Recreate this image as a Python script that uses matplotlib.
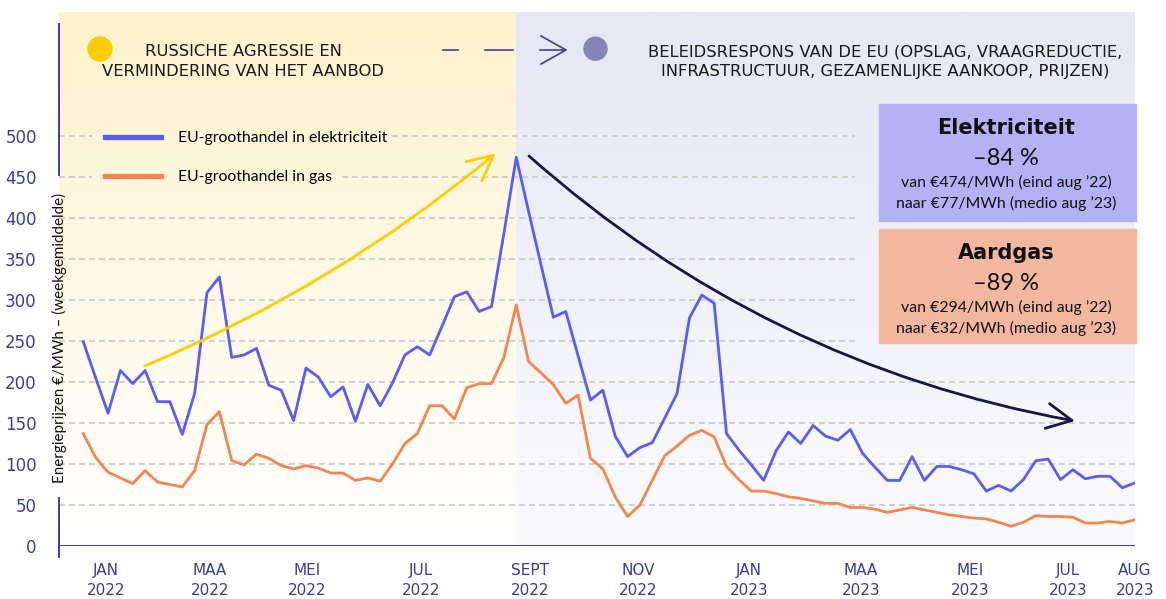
import numpy as np
import matplotlib.pyplot as plt
from matplotlib.colors import LinearSegmentedColormap
from matplotlib.patches import FancyArrowPatch, Rectangle, Ellipse
from matplotlib.lines import Line2D

W, H = 1166, 599

# weekly averages, EUR/MWh
elec = [249, 205, 162, 214, 198, 214, 176, 176, 136, 186,
        309, 328, 230, 233, 241, 196, 190, 153, 217, 206,
        182, 194, 152, 197, 171, 199, 233, 243, 233, 268,
        304, 310, 286, 292, 381, 474, 408, 343, 279, 286,
        232, 178, 190, 134, 109, 120, 126, 156, 186, 278,
        306, 296, 137, 117, 99, 80, 116, 139, 125, 147,
        134, 129, 142, 113, 96, 80, 80, 109, 80, 97,
        97, 93, 88, 67, 74, 67, 81, 104, 106, 81,
        93, 82, 85, 85, 71, 77]
gas = [137, 108, 90, 83, 76, 92, 78, 75, 72, 92,
       148, 164, 104, 99, 112, 107, 98, 94, 98, 95,
       89, 89, 80, 83, 79, 100, 125, 137, 171, 171,
       155, 193, 198, 198, 230, 294, 225, 211, 197, 174,
       184, 107, 94, 60, 36, 50, 80, 110, 122, 135,
       141, 133, 97, 81, 67, 67, 64, 60, 58, 55,
       52, 52, 47, 47, 45, 41, 44, 47, 44, 41,
       38, 36, 34, 33, 29, 24, 29, 37, 36, 36,
       35, 28, 28, 30, 28, 32]
weeks = np.arange(len(elec))

tick_pos = [1.84, 10.24, 18.08, 27.3, 36.11, 44.84, 53.82, 62.87, 71.68, 79.6, 85.0]
tick_labels = ["JAN\n2022", "MAA\n2022", "MEI\n2022", "JUL\n2022", "SEPT\n2022",
               "NOV\n2022", "JAN\n2023", "MAA\n2023", "MEI\n2023", "JUL\n2023", "AUG\n2023"]
y_ticks = list(range(0, 501, 50))

ELEC = "#5B5CF6"
GAS = "#F5854F"
AXIS = "#2E2EA0"
TICK = "#3A3C9C"
SANS = ["DejaVu Sans"]
BODY = ["Lato", "DejaVu Sans"]

# pixel helpers (x axis: week index, y axis: value)
X0, DX, Y0, DY = 83.3, 12.37, 546.0, 0.82
def kx(px):
    return (px - X0) / DX
def vy(py):
    return (Y0 - py) / DY
def fx(px):
    return px / W
def fy(py):
    return 1 - py / H

fig = plt.figure(figsize=(W / 100, H / 100), dpi=100)
ax = fig.add_axes([fx(59), fy(546), (1135 - 59) / W, (546 - 12) / H])
xl, xr = kx(59), kx(1135)
ytop = vy(12)

# ---- backgrounds -------------------------------------------------------
grad = np.linspace(0, 1, 256).reshape(-1, 1)
cm_y = LinearSegmentedColormap.from_list("yel", ["#FFFFFF", "#FEF3CC"])
cm_l = LinearSegmentedColormap.from_list("lav", ["#FBFBFE", "#E5E7F3"])
ax.imshow(grad, extent=[xl, 35, 0, ytop], origin="lower", aspect="auto", cmap=cm_y, zorder=0)
ax.imshow(grad, extent=[35, xr, 0, ytop], origin="lower", aspect="auto", cmap=cm_l, zorder=0)

# ---- grid (gaps behind legend text and summary boxes) -------------------
gaps = {500: (92, 392), 450: (92, 342)}
for v in y_ticks[1:]:
    x_end = kx(855) if v >= 250 else xr
    segs = [(xl, x_end)]
    if v in gaps:
        a, b = gaps[v]
        segs = [(xl, kx(a)), (kx(b), x_end)]
    for a, b in segs:
        ax.hlines(v, a, b, colors="#C9C9C9", linestyles=(0, (3.5, 2.5)), lw=1.2, zorder=1)
ax.axhline(0, color=AXIS, lw=1.3, zorder=2)

# ---- data ---------------------------------------------------------------
ax.plot(weeks, elec, color=ELEC, lw=2.0, zorder=4, label="EU-groothandel in elektriciteit")
ax.plot(weeks, gas, color=GAS, lw=2.0, zorder=4, label="EU-groothandel in gas")

ax.set_xlim(xl, xr)
ax.set_ylim(0, ytop)
for s in ax.spines.values():
    s.set_visible(False)
ax.set_yticks(y_ticks)
ax.set_yticklabels([str(v) for v in y_ticks], color=TICK, fontsize=12, family=SANS)
ax.set_xticks(tick_pos)
ax.set_xticklabels(tick_labels, color=TICK, fontsize=11, family=SANS, linespacing=1.45)
ax.tick_params(axis="both", length=0)
ax.tick_params(axis="y", pad=16)
ax.tick_params(axis="x", pad=12)

leg = ax.legend(loc="upper left", bbox_to_anchor=((98 - 59) / 1076, (546 - 124) / 534),
                frameon=False, prop={"family": BODY, "size": 11.3},
                handlelength=3.57, handletextpad=1.08,
                labelspacing=1.62, borderpad=0.45, borderaxespad=0)
for ln in leg.get_lines():
    ln.set_linewidth(3.8)

# ---- trend arrows -------------------------------------------------------
ax.add_patch(FancyArrowPatch((kx(144.7), vy(366)), (kx(495.7), vy(153.3)),
                             connectionstyle="arc3,rad=0.075",
                             arrowstyle="->,head_length=0.9,head_width=0.45",
                             mutation_scale=20, lw=2.0, color="#FFCD00",
                             shrinkA=0, shrinkB=0, zorder=5))
ax.add_patch(FancyArrowPatch((kx(529), vy(156)), (kx(1075), vy(421)),
                             connectionstyle="arc3,rad=0.14",
                             arrowstyle="->,head_length=0.9,head_width=0.45",
                             mutation_scale=20, lw=2.0, color="#161647",
                             shrinkA=0, shrinkB=0, zorder=5))

# ---- left axis line (broken behind the label) ---------------------------
for a, b in [(24, 175), (498, 557)]:
    fig.add_artist(Line2D([fx(58.5)] * 2, [fy(a), fy(b)], color=AXIS, lw=1.3))
fig.text(fx(59), fy(338), "Energieprijzen €/MWh – (weekgemiddelde)", rotation=90,
         ha="center", va="center", fontsize=10.9, family=BODY, color="#111111")

# ---- header -------------------------------------------------------------
fig.add_artist(Ellipse((fx(100), fy(49)), 24 / W, 24 / H, transform=fig.transFigure,
                       color="#FFCC00"))
fig.text(fx(243), fy(61.5), "RUSSICHE AGRESSIE EN\nVERMINDERING VAN HET AANBOD",
         ha="center", va="center", fontsize=11.8, family=SANS, linespacing=1.35,
         color="#1A1A1A")
for a, b in [(443, 458), (485, 513), (540, 563)]:
    fig.add_artist(Line2D([fx(a), fx(b)], [fy(50)] * 2, color="#3D3F90", lw=1.2))
fig.add_artist(Line2D([fx(541), fx(566), fx(541)], [fy(36), fy(50), fy(64)],
                      color="#3D3F90", lw=1.2))
fig.add_artist(Ellipse((fx(595.5), fy(48.7)), 23 / W, 23 / H, transform=fig.transFigure,
                       color="#8385B5"))
fig.text(fx(885), fy(61.5),
         "BELEIDSRESPONS VAN DE EU (OPSLAG, VRAAGREDUCTIE,\nINFRASTRUCTUUR, GEZAMENLIJKE AANKOOP, PRIJZEN)",
         ha="center", va="center", fontsize=11.8, family=SANS, linespacing=1.35,
         color="#1A1A1A")

# ---- summary boxes ------------------------------------------------------
boxes = [
    (104, 221, "#B2B3F5", "Elektriciteit", "\u201384 %",
     "van €474/MWh (eind aug \u201922)", "naar €77/MWh (medio aug \u201923)"),
    (229, 343, "#F2B79F", "Aardgas", "\u201389 %",
     "van €294/MWh (eind aug \u201922)", "naar €32/MWh (medio aug \u201923)"),
]
for top, bot, col, title, pct, l1, l2 in boxes:
    fig.add_artist(Rectangle((fx(879), fy(bot)), (1136 - 879) / W, (bot - top) / H,
                             transform=fig.transFigure, color=col, zorder=1))
    cx = fx(1006)
    fig.text(cx, fy(top + 24), title, ha="center", va="center", fontsize=15,
             fontweight="bold", family=SANS, color="#111111")
    fig.text(cx, fy(top + 54), pct, ha="center", va="center", fontsize=17,
             family=BODY, color="#111111")
    fig.text(cx, fy(top + 78), l1, ha="center", va="center", fontsize=11.4,
             family=BODY, color="#111111")
    fig.text(cx, fy(top + 99), l2, ha="center", va="center", fontsize=11.4,
             family=BODY, color="#111111")

fig.savefig("out.png", dpi=100)
